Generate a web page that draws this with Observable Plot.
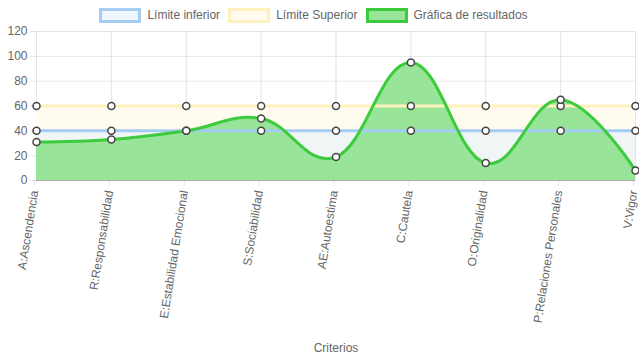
<!DOCTYPE html>
<html>
<head>
<meta charset="utf-8">
<script src="https://cdn.jsdelivr.net/npm/d3@7"></script>
<script src="https://cdn.jsdelivr.net/npm/@observablehq/plot@0.6"></script>
<style>
  html, body { margin: 0; padding: 0; background: #fff; }
  body { width: 639px; height: 360px; overflow: hidden; font-family: "Liberation Sans", Arial, Helvetica, sans-serif; }
  #legend { height: 24px; display: flex; justify-content: center; align-items: center; font-size: 12px; color: #666; padding-top: 6px; box-sizing: border-box; padding-right: 12px; }
  .item { display: flex; align-items: center; margin: 0 4px; }
  .box { width: 36px; height: 9px; border-width: 3px; border-style: solid; margin-right: 6px; }
  #chart svg { display: block; overflow: visible; }
</style>
</head>
<body>
<div id="legend"></div>
<div id="chart"></div>
<script>
const categories = ["A:Ascendencia", "R:Responsabilidad", "E:Estabilidad Emocional", "S:Sociabilidad", "AE:Autoestima", "C:Cautela", "O:Originalidad", "P:Relaciones Personales", "V:Vigor"];
const resultados = [31, 33, 40, 50, 19, 95, 14, 65, 8];
const limiteInferior = [40, 40, 40, 40, 40, 40, 40, 40, 40];
const limiteSuperior = [60, 60, 60, 60, 60, 60, 60, 60, 60];
const yTicks = [0, 20, 40, 60, 80, 100, 120];
const seriesNames = ["Límite inferior", "Límite Superior", "Gráfica de resultados"];
const lineColors = ["#a5cdf3", "#fff1bd", "#3ccb3c"];
const fillColors = ["#f0f6f6", "#fffbee", "#98e498"];
const legendFills = ["#eff6fd", "#fffbee", "#98e498"];

const rows = categories.map((c, i) => ({c, r: resultados[i], lo: limiteInferior[i], hi: limiteSuperior[i]}));

const legend = document.getElementById("legend");
seriesNames.forEach((n, i) => {
  const it = document.createElement("div");
  it.className = "item";
  const b = document.createElement("div");
  b.className = "box";
  b.style.borderColor = lineColors[i];
  b.style.background = legendFills[i];
  it.appendChild(b);
  const t = document.createElement("span");
  t.textContent = n;
  it.appendChild(t);
  legend.appendChild(it);
});

const curve = "cardinal";
const tension = -0.2;
const grid = "rgba(0,0,0,0.1)";

const chart = Plot.plot({
  width: 639,
  height: 336,
  marginTop: 7,
  marginBottom: 180,
  marginLeft: 36,
  marginRight: 4,
  style: {fontSize: "12px", fontFamily: "'Liberation Sans', Arial, Helvetica, sans-serif", color: "#666", background: "transparent"},
  x: {type: "point", domain: categories, padding: 0, round: false},
  y: {domain: [0, 120]},
  marks: [
    Plot.ruleY(yTicks, {y: d => d, stroke: grid}),
    Plot.ruleX(categories, {x: d => d, y1: 0, y2: 120, stroke: grid}),
    Plot.areaY(rows, {x: "c", y1: 0, y2: "hi", fill: fillColors[1], curve, tension}),
    Plot.areaY(rows, {x: "c", y1: 0, y2: "lo", fill: fillColors[0], curve, tension}),
    Plot.areaY(rows, {x: "c", y1: 0, y2: "r", fill: fillColors[2], curve, tension}),
    Plot.lineY(rows, {x: "c", y: "hi", stroke: lineColors[1], strokeWidth: 3, curve, tension}),
    Plot.lineY(rows, {x: "c", y: "lo", stroke: lineColors[0], strokeWidth: 3, curve, tension}),
    Plot.lineY(rows, {x: "c", y: "r", stroke: lineColors[2], strokeWidth: 3, curve, tension}),
    Plot.ruleY([0], {stroke: "rgba(0,0,0,0.25)"}),
    Plot.dot(rows, {x: "c", y: "hi", r: 3.5, fill: "white", stroke: "#444", strokeWidth: 1.5}),
    Plot.dot(rows, {x: "c", y: "lo", r: 3.5, fill: "white", stroke: "#444", strokeWidth: 1.5}),
    Plot.dot(rows, {x: "c", y: "r", r: 3.5, fill: "white", stroke: "#444", strokeWidth: 1.5}),
    Plot.axisY({ticks: yTicks, tickSize: 6, tickPadding: 3, stroke: grid, fill: "#666", label: null}),
    Plot.axisX({tickRotate: -81, tickSize: 6, tickPadding: 4, dx: -2, stroke: grid, fill: "#666", label: null}),
    Plot.axisX({ticks: [], tickSize: 0, label: "Criterios", labelAnchor: "center", labelArrow: "none", labelOffset: 171, fill: "#666"})
  ]
});
document.getElementById("chart").appendChild(chart);
</script>
</body>
</html>
